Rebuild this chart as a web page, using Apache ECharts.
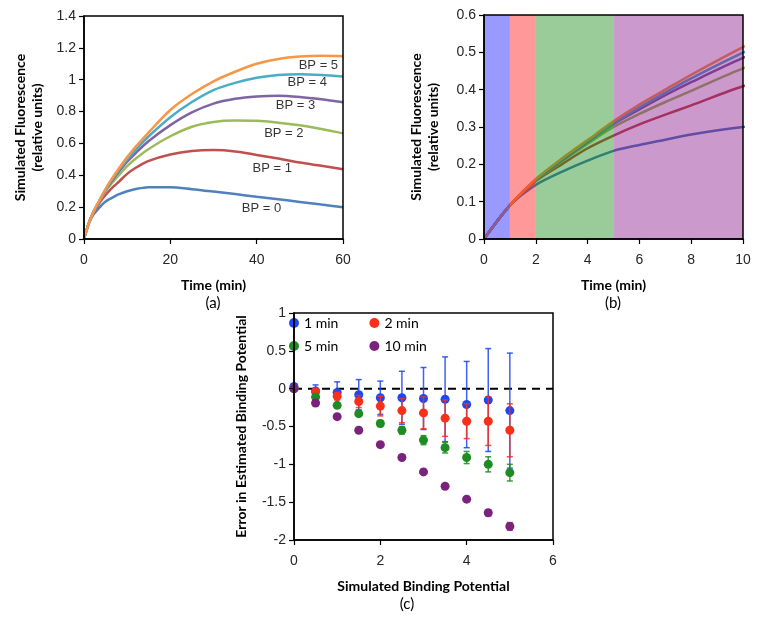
<!DOCTYPE html>
<html>
<head>
<meta charset="utf-8">
<script src="https://cdn.jsdelivr.net/npm/echarts@6/dist/echarts.min.js"></script>
<style>
html,body{margin:0;padding:0;background:#fff;}
#chart{width:762px;height:629px;}
</style>
</head>
<body>
<div id="chart"></div>
<script>
// ---------- Panel (a)/(b): simulated fluorescence curves ----------
const timeMin = [0,1,2,3,4,5,6,7,8,10,12,15,20,25,30,35,40,45,50,55,60];
const bp0 = [0,0.09,0.145,0.18,0.21,0.236,0.252,0.266,0.28,0.30,0.314,0.325,0.325,0.313,0.298,0.282,0.265,0.25,0.233,0.216,0.20];
const bp1 = [0,0.09,0.155,0.20,0.243,0.277,0.307,0.333,0.358,0.409,0.447,0.49,0.53,0.552,0.558,0.55,0.528,0.505,0.48,0.46,0.438];
const bp2 = [0,0.09,0.157,0.207,0.255,0.30,0.335,0.367,0.397,0.457,0.505,0.565,0.645,0.705,0.735,0.744,0.742,0.73,0.714,0.69,0.663];
const bp3 = [0,0.09,0.158,0.21,0.26,0.308,0.347,0.385,0.42,0.485,0.54,0.615,0.715,0.795,0.85,0.88,0.895,0.90,0.892,0.877,0.858];
const bp4 = [0,0.09,0.16,0.213,0.262,0.31,0.352,0.392,0.43,0.499,0.56,0.645,0.765,0.86,0.935,0.98,1.012,1.03,1.035,1.03,1.02];
const bp5 = [0,0.09,0.16,0.215,0.265,0.315,0.36,0.40,0.44,0.514,0.58,0.67,0.81,0.91,0.99,1.05,1.10,1.13,1.145,1.15,1.148];
const curveNames = ['BP = 0','BP = 1','BP = 2','BP = 3','BP = 4','BP = 5'];
const curveColors = ['#4f81bd','#c0504d','#9bbb59','#8064a2','#4bacc6','#f79646'];

// annotation positions (data coords in panel a)
const bpLabelT = [41.1,43.6,46.3,49.0,51.7,54.3];
const bpLabelV = [0.194,0.444,0.6625,0.8375,0.981,1.089];

// panel (b) fitting windows
const bandStart = [0,1,2,5];
const bandEnd = [1,2,5,10];
const bandColors = ['#0000ff','#ff0000','#008000','#800080'];

// ---------- Panel (c): error in estimated binding potential ----------
const bpSim = [0,0.5,1,1.5,2,2.5,3,3.5,4,4.5,5];
const err1Mean = [0.03,-0.03,-0.05,-0.08,-0.12,-0.12,-0.13,-0.14,-0.21,-0.15,-0.29];
const err1Sd = [0,0.08,0.14,0.20,0.22,0.35,0.41,0.56,0.57,0.68,0.76];
const err2Mean = [0,-0.04,-0.10,-0.17,-0.23,-0.29,-0.32,-0.39,-0.43,-0.43,-0.55];
const err2Sd = [0,0.03,0.05,0.08,0.13,0.16,0.21,0.24,0.23,0.32,0.35];
const err5Mean = [0,-0.11,-0.22,-0.33,-0.46,-0.55,-0.68,-0.78,-0.91,-1.00,-1.11];
const err5Sd = [0,0.02,0.02,0.03,0.04,0.05,0.06,0.07,0.08,0.10,0.11];
const err10Mean = [0,-0.19,-0.37,-0.55,-0.74,-0.91,-1.10,-1.29,-1.46,-1.64,-1.82];
const err10Sd = [0,0.01,0.01,0.015,0.015,0.02,0.02,0.025,0.03,0.04,0.05];
const groupNames = ['1 min','2 min','5 min','10 min'];
const groupColors = ['#1f45f0','#f8301a','#1e8c23','#7a237c'];

const curves = [bp0,bp1,bp2,bp3,bp4,bp5];
const means = [err1Mean,err2Mean,err5Mean,err10Mean];
const sds = [err1Sd,err2Sd,err5Sd,err10Sd];

const tickFont = {fontFamily:'Liberation Sans, Arial, sans-serif', fontSize:14, color:'#262626'};
const titleFont = {fontFamily:'Lato, sans-serif', fontWeight:'bold', fontSize:14, color:'#000'};

function valueAxis(gridIndex, min, max, interval, margin, extra){
  return Object.assign({
    type:'value', gridIndex, min, max, interval, z:10,
    axisLine:{show:true, onZero:false, lineStyle:{color:'#000', width:1.5}},
    axisTick:{show:true, inside:false, length:5, lineStyle:{color:'#000', width:1.2}},
    axisLabel:Object.assign({margin:margin}, tickFont),
    splitLine:{show:false},
    nameLocation:'middle',
    nameTextStyle:Object.assign({lineHeight:17}, titleFont)
  }, extra||{});
}

const series = [];
// panel a
curves.forEach((c,i)=>{
  series.push({
    type:'line', xAxisIndex:0, yAxisIndex:0, name:curveNames[i],
    data: timeMin.map((t,k)=>[t,c[k]]),
    symbol:'none', smooth:0.3, z:2,
    lineStyle:{color:curveColors[i], width:2.5}
  });
});
series.push({
  type:'scatter', xAxisIndex:0, yAxisIndex:0, symbolSize:0, z:3, silent:true,
  data: curveNames.map((n,i)=>({name:n, value:[bpLabelT[i], bpLabelV[i]]})),
  label:{show:true, position:'inside', formatter:p=>p.name,
    fontFamily:'Liberation Sans, Arial, sans-serif', fontSize:13, color:'#000'}
});
// panel b
curves.forEach((c,i)=>{
  series.push({
    type:'line', xAxisIndex:1, yAxisIndex:1, name:curveNames[i]+' b',
    data: timeMin.map((t,k)=>[t,c[k]]),
    symbol:'none', smooth:0.3, z:2, clip:true,
    lineStyle:{color:curveColors[i], width:2.5}
  });
});
series.push({
  type:'custom', xAxisIndex:1, yAxisIndex:1, z:5, silent:true,
  data: bandStart.map((s,i)=>[s, bandEnd[i], i]),
  renderItem:(params, api)=>{
    const p0 = api.coord([api.value(0), 0.6]);
    const p1 = api.coord([api.value(1), 0]);
    return {type:'rect', shape:{x:p0[0], y:p0[1], width:p1[0]-p0[0], height:p1[1]-p0[1]},
      style:{fill:bandColors[api.value(2)], opacity:0.4}};
  }
});
// panel c
series.push({
  type:'line', xAxisIndex:2, yAxisIndex:2, data:[[0,0],[6,0]], symbol:'none', z:1, silent:true,
  lineStyle:{color:'#000', width:2, type:[8,6]}
});
means.forEach((m,g)=>{
  const col = groupColors[g];
  series.push({
    type:'custom', xAxisIndex:2, yAxisIndex:2, z:2+g, silent:true,
    data: bpSim.map((x,k)=>[x, m[k], sds[g][k]]),
    renderItem:(params, api)=>{
      const x = api.value(0), y = api.value(1), e = api.value(2);
      if(!e) return null;
      const t = api.coord([x, y+e]), b = api.coord([x, y-e]);
      const w = 3, st = {stroke:col, lineWidth:1.5, opacity:0.85};
      return {type:'group', children:[
        {type:'line', shape:{x1:t[0], y1:t[1], x2:b[0], y2:b[1]}, style:st},
        {type:'line', shape:{x1:t[0]-w, y1:t[1], x2:t[0]+w, y2:t[1]}, style:st},
        {type:'line', shape:{x1:b[0]-w, y1:b[1], x2:b[0]+w, y2:b[1]}, style:st}
      ]};
    }
  });
  series.push({
    type:'scatter', xAxisIndex:2, yAxisIndex:2, name:groupNames[g], z:2+g,
    data: bpSim.map((x,k)=>[x, m[k]]),
    symbol:'circle', symbolSize:9, itemStyle:{color:col, opacity:1}
  });
});

const legendCommon = {orient:'horizontal', icon:'circle', itemWidth:10, itemHeight:10, padding:0,
  itemGap:31, itemStyle:{opacity:1}, textStyle:{fontFamily:'Lato, sans-serif', fontSize:14, color:'#000', padding:[0,0,0,0]}};

const option = {
  animation:false,
  backgroundColor:'#fff',
  grid:[
    {left:84, top:16, width:259, height:223, show:true, borderColor:'#000', borderWidth:1.5, z:10, backgroundColor:'transparent'},
    {left:484, top:15, width:259, height:224, show:true, borderColor:'#000', borderWidth:1.5, z:10, backgroundColor:'transparent'},
    {left:294, top:313, width:259, height:227, show:true, borderColor:'#000', borderWidth:1.5, z:10, backgroundColor:'transparent'}
  ],
  xAxis:[
    valueAxis(0,0,60,20,14,{name:'Time (min)', nameGap:38}),
    valueAxis(1,0,10,2,14,{name:'Time (min)', nameGap:38}),
    valueAxis(2,0,6,2,14,{name:'Simulated Binding Potential', nameGap:38})
  ],
  yAxis:[
    valueAxis(0,0,1.4,0.2,8,{name:'Simulated Fluorescence\n(relative units)', nameGap:38, nameRotate:90}),
    valueAxis(1,0,0.6,0.1,8,{name:'Simulated Fluorescence\n(relative units)', nameGap:42, nameRotate:90}),
    valueAxis(2,-2,1,0.5,8,{name:'Error in Estimated Binding Potential', nameGap:44, nameRotate:90})
  ],
  legend:[
    Object.assign({left:289, top:316, data:['1 min','2 min']}, legendCommon),
    Object.assign({left:289, top:339, data:['5 min','10 min']}, legendCommon)
  ],
  graphic:[
    {type:'text', x:213, y:303, style:{text:'(a)', textAlign:'center', textVerticalAlign:'middle', font:'15px Lato, sans-serif', fill:'#000'}},
    {type:'text', x:613, y:303, style:{text:'(b)', textAlign:'center', textVerticalAlign:'middle', font:'15px Lato, sans-serif', fill:'#000'}},
    {type:'text', x:407, y:604, style:{text:'(c)', textAlign:'center', textVerticalAlign:'middle', font:'15px Lato, sans-serif', fill:'#000'}}
  ],
  series
};

const chart = echarts.init(document.getElementById('chart'), null, {renderer:'canvas'});
chart.setOption(option);
</script>
</body>
</html>
